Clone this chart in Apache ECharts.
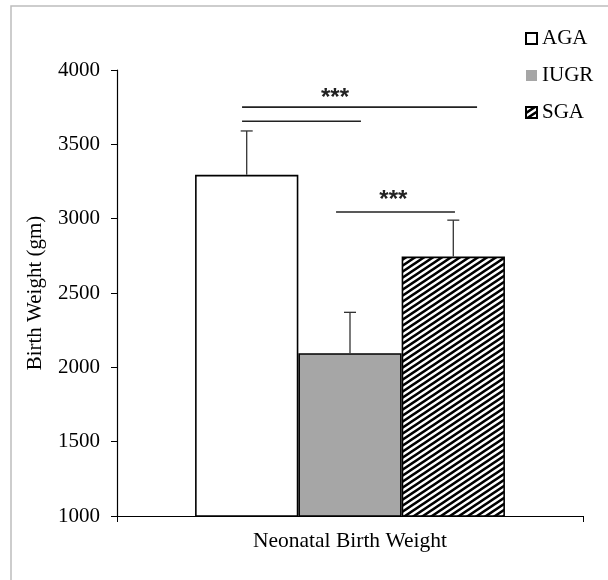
<!DOCTYPE html>
<html>
<head>
<meta charset="utf-8">
<script src="https://cdn.jsdelivr.net/npm/echarts@6/dist/echarts.min.js"></script>
<style>html,body{margin:0;padding:0;background:#fff;}#c{width:608px;height:580px;}</style>
</head>
<body>
<div id="c"></div>
<script>
// ---- data ----
const categories = ['Neonatal Birth Weight'];
const groups = ['AGA', 'IUGR', 'SGA'];
const means = [3295, 2095, 2745];
const sds = [295, 275, 245];
const yTicks = [1000, 1500, 2000, 2500, 3000, 3500, 4000];
// significance brackets: [from bar offset, to bar offset, y value]
const brackets = [[-1.045, 1.23, 3750], [-1.045, 0.106, 3655], [-0.135, 1.016, 3045]];
const sigLabels = [['***', -0.145, 3811], ['***', 0.42, 3125]];

const FONT = '"Liberation Serif", "Times New Roman", serif';
const GAP = 0.335;

function stripes() {
  const w = 9, h = 6;
  const c = document.createElement('canvas');
  c.width = w; c.height = h;
  const g = c.getContext('2d');
  g.fillStyle = '#fff'; g.fillRect(0, 0, w, h);
  g.strokeStyle = '#000'; g.lineWidth = 2.6;
  g.beginPath();
  for (let n = -1; n <= 1; n++) {
    g.moveTo(-w, 2 * h + n * h);
    g.lineTo(2 * w, -h + n * h);
  }
  g.stroke();
  return c;
}
const pattern = { image: stripes(), repeat: 'repeat' };
const fills = ['#ffffff', '#a6a6a6', pattern];

const chart = echarts.init(document.getElementById('c'), null, { renderer: 'canvas' });

const barSeries = groups.map((g, i) => ({
  name: g,
  type: 'bar',
  data: [means[i]],
  barGap: '0%',
  barCategoryGap: (GAP * 100) + '%',
  itemStyle: { color: fills[i], borderColor: '#000', borderWidth: 1.6 },
  z: 2
}));

function barWidth(api) {
  return api.size([1, 0])[0] * (1 - GAP) / 3;
}

const errSeries = {
  type: 'custom',
  data: means.map((m, i) => [0, m, sds[i], i]),
  z: 3,
  renderItem: function (params, api) {
    const bw = barWidth(api);
    const base = api.coord([api.value(0), api.value(1)]);
    const top = api.coord([api.value(0), api.value(1) + api.value(2)]);
    const x = base[0] + (api.value(3) - 1) * bw;
    const st = { stroke: '#333', lineWidth: 1.3 };
    return {
      type: 'group',
      children: [
        { type: 'line', shape: { x1: x, y1: base[1], x2: x, y2: top[1] }, style: st },
        { type: 'line', shape: { x1: x - 6, y1: top[1], x2: x + 6, y2: top[1] }, style: st }
      ]
    };
  }
};

const bracketSeries = {
  type: 'custom',
  data: brackets.map(b => [0, b[2], b[0], b[1]]),
  z: 3,
  clip: false,
  renderItem: function (params, api) {
    const bw = barWidth(api);
    const p = api.coord([api.value(0), api.value(1)]);
    return {
      type: 'line',
      shape: { x1: p[0] + api.value(2) * bw, y1: p[1], x2: p[0] + api.value(3) * bw, y2: p[1] },
      style: { stroke: '#222', lineWidth: 1.6 }
    };
  }
};

const labelSeries = {
  type: 'custom',
  data: sigLabels.map(l => [0, l[2], l[1]]),
  z: 3,
  clip: false,
  renderItem: function (params, api) {
    const bw = barWidth(api);
    const p = api.coord([api.value(0), api.value(1)]);
    return {
      type: 'text',
      x: p[0] + api.value(2) * bw,
      y: p[1],
      style: {
        text: sigLabels[params.dataIndex][0],
        fill: '#222',
        font: 'bold 24px "Liberation Sans", Arial, sans-serif',
        textAlign: 'center',
        textVerticalAlign: 'middle'
      }
    };
  }
};

chart.setOption({
  animation: false,
  backgroundColor: '#fff',
  grid: { left: 117, right: 25, top: 70, bottom: 64, containLabel: false },
  legend: {
    orient: 'vertical',
    left: 520,
    top: 23,
    itemWidth: 11,
    itemHeight: 11,
    itemGap: 16,
    icon: 'rect',
    textStyle: { fontFamily: FONT, fontSize: 21, color: '#000' },
    data: [
      { name: 'AGA', itemStyle: { color: '#fff', borderColor: '#000', borderWidth: 2 } },
      { name: 'IUGR', itemStyle: { color: '#a6a6a6', borderWidth: 0 } },
      { name: 'SGA', itemStyle: { color: pattern, borderColor: '#000', borderWidth: 2 } }
    ]
  },
  xAxis: {
    type: 'category',
    data: categories,
    axisLine: { lineStyle: { color: '#000', width: 1.2 } },
    axisTick: { show: true, length: 6, lineStyle: { color: '#000' } },
    axisLabel: { fontFamily: FONT, fontSize: 21.5, color: '#000', margin: 14 }
  },
  yAxis: {
    type: 'value',
    min: yTicks[0],
    max: yTicks[yTicks.length - 1],
    interval: 500,
    name: 'Birth Weight (gm)',
    nameLocation: 'middle',
    nameGap: 71,
    nameTextStyle: { fontFamily: FONT, fontSize: 21, color: '#000' },
    splitLine: { show: false },
    axisLine: { show: true, lineStyle: { color: '#000', width: 1.2 } },
    axisTick: { show: true, length: 6, lineStyle: { color: '#000' } },
    axisLabel: {
      fontFamily: FONT, fontSize: 21, color: '#000', margin: 17,
      formatter: function (v) { return String(v); }
    }
  },
  graphic: [{
    type: 'polyline',
    shape: { points: [[11, 580], [11, 6], [608, 6]] },
    style: { stroke: '#bdbdbd', lineWidth: 1.5, fill: null },
    silent: true
  }],
  series: barSeries.concat([errSeries, bracketSeries, labelSeries])
});
</script>
</body>
</html>
